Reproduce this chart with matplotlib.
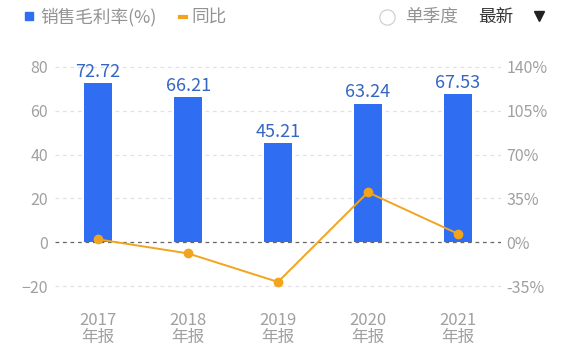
import numpy as np
import matplotlib.pyplot as plt
from matplotlib.patches import Rectangle

plt.rcParams['font.family'] = ['Noto Sans CJK SC', 'DejaVu Sans']

YEARS = ['2017', '2018', '2019', '2020', '2021']
PERIOD = '年报'
MARGIN = [72.72, 66.21, 45.21, 63.24, 67.53]
YOY = [2.3, -8.95, -31.72, 39.88, 6.78]
LEFT_TICKS = [-20, 0, 20, 40, 60, 80]
RIGHT_TICKS = [-35, 0, 35, 70, 105, 140]

BAR_COLOR = '#2f6ef2'
LINE_COLOR = '#f2a41f'
TICK_COLOR = '#a0a0a0'
LABEL_COLOR = '#3566c4'

W, H = 571, 357
fig = plt.figure(figsize=(W / 100, H / 100), dpi=100)
ax = fig.add_axes([55 / W, (H - 297) / H, 446 / W, 241 / H])
x = np.arange(len(YEARS))

ax.bar(x, MARGIN, width=0.31, color=BAR_COLOR, zorder=2)
for xi, v in zip(x, MARGIN):
    ax.text(xi, v + 1.0, f'{v:.2f}', ha='center', va='bottom',
            color=LABEL_COLOR, fontsize=13)

ylo, yhi = -25, 85
ax.set_ylim(ylo, yhi)
ax.set_xlim(-0.48, 4.48)
ax.set_yticks(LEFT_TICKS)
for t in LEFT_TICKS:
    if t == 0:
        ax.axhline(0, color='#666666', ls=(0, (3, 3)), lw=0.9, zorder=1)
    else:
        ax.axhline(t, color='#e2e2e2', ls=(0, (3, 3)), lw=0.9, zorder=0)

ax2 = ax.twinx()
scale = 35 / 20
ax2.set_ylim(ylo * scale, yhi * scale)
ax2.set_yticks(RIGHT_TICKS)
ax2.set_yticklabels([f'{t}%' for t in RIGHT_TICKS])
ax2.plot(x, YOY, color=LINE_COLOR, lw=1.4, marker='o', ms=6, zorder=3)

ax.set_xticks(x)
ax.set_xticklabels([f'{y}\n{PERIOD}' for y in YEARS], linespacing=1.0)

for a in (ax, ax2):
    for s in a.spines.values():
        s.set_visible(False)
    a.tick_params(length=0, labelsize=11.5, labelcolor=TICK_COLOR)
ax.tick_params(axis='y', pad=5)
ax.tick_params(axis='x', pad=11, labelsize=12)
ax2.tick_params(axis='y', pad=4)

# header legend and controls
yc = 1 - 17 / H
fig.patches.append(Rectangle((25 / W, 1 - 20 / H), 8 / W, 8 / H,
                             transform=fig.transFigure, color=BAR_COLOR))
fig.text(40 / W, yc, '销售毛利率(%)', fontsize=12.7,
         color='#939393', va='center')
fig.lines.append(plt.Line2D([180 / W, 186 / W], [yc] * 2,
                            transform=fig.transFigure, color=LINE_COLOR, lw=3))
fig.text(191 / W, yc, '同比', fontsize=12.7,
         color='#939393', va='center')
fig.lines.append(plt.Line2D([387 / W], [yc], transform=fig.transFigure,
                            marker='o', ms=11, mfc='white', mec='#cccccc',
                            mew=0.8))
fig.text(405 / W, yc, '单季度', fontsize=12.7,
         color='#939393', va='center')
fig.text(478 / W, yc, '最新', fontsize=12.7, fontweight='medium',
         color='#333333', va='center')
fig.lines.append(plt.Line2D([539 / W], [1 - 16 / H], transform=fig.transFigure,
                            marker='v', ms=7, color='#222222'))

fig.savefig('out.png', dpi=100)
